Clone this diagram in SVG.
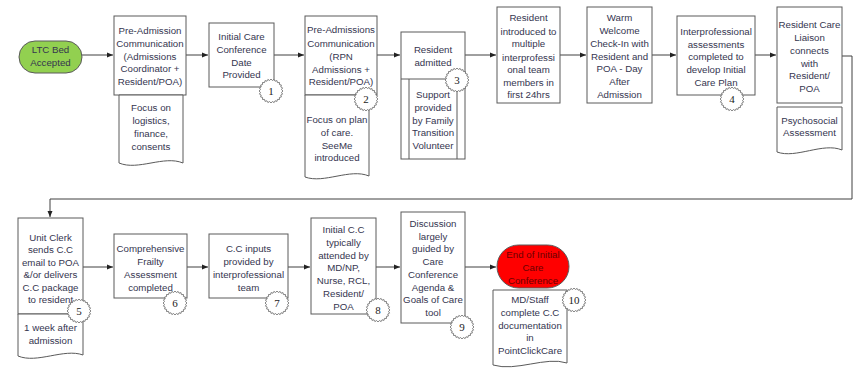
<svg xmlns="http://www.w3.org/2000/svg" width="856" height="368" viewBox="0 0 856 368">
<defs>
<style>
.box{fill:#fff;stroke:#5a5a5a;stroke-width:1}
.doc{fill:#fff;stroke:#5a5a5a;stroke-width:1}
.t{font-family:"Liberation Sans",Arial,sans-serif;font-size:9.7px;fill:#35354f;text-anchor:middle}
.conn{fill:none;stroke:#404040;stroke-width:1}
.badge{fill:#fff;stroke:#666;stroke-width:0.8}
.bt{font-family:"Liberation Serif","Times New Roman",serif;font-size:11px;fill:#222;text-anchor:middle}
</style>
<marker id="ah" viewBox="0 0 6 6" refX="6" refY="3" markerWidth="6" markerHeight="6" markerUnits="userSpaceOnUse" orient="auto">
<path d="M0,0.5 L6,3 L0,5.5 Z" fill="#222"/>
</marker>
<polygon id="gear" class="badge" points="12,0 10.51,1.38 11.59,3.11 9.79,4.06 10.39,6 8.41,6.45 8.49,8.49 6.45,8.41 6,10.39 4.06,9.79 3.11,11.59 1.38,10.51 0,12 -1.38,10.51 -3.11,11.59 -4.06,9.79 -6,10.39 -6.45,8.41 -8.49,8.49 -8.41,6.45 -10.39,6 -9.79,4.06 -11.59,3.11 -10.51,1.38 -12,0 -10.51,-1.38 -11.59,-3.11 -9.79,-4.06 -10.39,-6 -8.41,-6.45 -8.49,-8.49 -6.45,-8.41 -6,-10.39 -4.06,-9.79 -3.11,-11.59 -1.38,-10.51 0,-12 1.38,-10.51 3.11,-11.59 4.06,-9.79 6,-10.39 6.45,-8.41 8.49,-8.49 8.41,-6.45 10.39,-6 9.79,-4.06 11.59,-3.11 10.51,-1.38"/>
</defs>
<rect width="856" height="368" fill="#fff"/>

<g id="connectors">
<path class="conn" marker-end="url(#ah)" d="M82,55 H113"/>
<path class="conn" marker-end="url(#ah)" d="M186,55 H208"/>
<path class="conn" marker-end="url(#ah)" d="M274,55 H304"/>
<path class="conn" marker-end="url(#ah)" d="M377,55 H400"/>
<path class="conn" marker-end="url(#ah)" d="M465,55 H496"/>
<path class="conn" marker-end="url(#ah)" d="M560,55 H586"/>
<path class="conn" marker-end="url(#ah)" d="M652,55 H676"/>
<path class="conn" marker-end="url(#ah)" d="M755,55 H776"/>
<path class="conn" marker-end="url(#ah)" d="M842,56 H852 V199 H50 V217"/>
<path class="conn" marker-end="url(#ah)" d="M83,267 H113"/>
<path class="conn" marker-end="url(#ah)" d="M187,267 H208"/>
<path class="conn" marker-end="url(#ah)" d="M288,267 H310"/>
<path class="conn" marker-end="url(#ah)" d="M376,267 H400"/>
<path class="conn" marker-end="url(#ah)" d="M465,267 H496"/>
</g>

<g id="ltc-bed">
<rect x="19" y="41" width="63" height="32" rx="16" fill="#92d050" stroke="#5a5a5a"/>
<text class="t"><tspan x="50.5" y="53">LTC Bed</tspan><tspan x="50.5" y="66">Accepted</tspan></text>
</g>

<g id="pre-admission">
<rect class="box" x="114" y="16" width="72" height="79"/>
<text class="t"><tspan x="150" y="33.5">Pre-Admission</tspan><tspan x="150" y="46.5">Communication</tspan><tspan x="150" y="59.5">(Admissions</tspan><tspan x="150" y="71.5">Coordinator +</tspan><tspan x="150" y="84.5">Resident/POA)</tspan></text>
</g>
<g id="doc-logistics">
<path class="doc" d="M119,95 H183 V163 C164,155 138,171 119,163 Z"/>
<text class="t"><tspan x="151" y="110.5">Focus on</tspan><tspan x="151" y="123.5">logistics,</tspan><tspan x="151" y="136.5">finance,</tspan><tspan x="151" y="149.5">consents</tspan></text>
</g>

<g id="initial-cc-date">
<rect class="box" x="209" y="23" width="65" height="64"/>
<text class="t"><tspan x="241.5" y="39.5">Initial Care</tspan><tspan x="241.5" y="52.5">Conference</tspan><tspan x="241.5" y="65.5">Date</tspan><tspan x="241.5" y="77.5">Provided</tspan></text>
</g>

<g id="pre-admissions-rpn">
<rect class="box" x="305" y="16" width="72" height="79"/>
<text class="t"><tspan x="341" y="33">Pre-Admissions</tspan><tspan x="341" y="46.5">Communication</tspan><tspan x="341" y="60">(RPN</tspan><tspan x="341" y="72.5">Admissions +</tspan><tspan x="341" y="85">Resident/POA)</tspan></text>
</g>
<g id="doc-plan">
<path class="doc" d="M305,95 H369 V176 C350,168 324,184 305,177 Z"/>
<text class="t"><tspan x="337" y="122.5">Focus on plan</tspan><tspan x="337" y="135.5">of care.</tspan><tspan x="337" y="148.5">SeeMe</tspan><tspan x="337" y="160.5">introduced</tspan></text>
</g>

<g id="resident-admitted">
<rect class="box" x="401" y="32" width="64" height="127"/>
<line class="box" x1="401" y1="79" x2="465" y2="79"/>
<line class="box" x1="409" y1="79" x2="409" y2="159"/>
<line class="box" x1="457" y1="79" x2="457" y2="159"/>
<text class="t"><tspan x="433" y="52.5">Resident</tspan><tspan x="433" y="65.5">admitted</tspan></text>
<text class="t"><tspan x="433" y="97.5">Support</tspan><tspan x="433" y="110.5">provided</tspan><tspan x="433" y="123.5">by Family</tspan><tspan x="433" y="135.5">Transition</tspan><tspan x="433" y="148.5">Volunteer</tspan></text>
</g>

<g id="resident-introduced">
<rect class="box" x="497" y="7" width="63" height="96"/>
<text class="t"><tspan x="528.5" y="20.5">Resident</tspan><tspan x="528.5" y="34.5">introduced to</tspan><tspan x="528.5" y="46.5">multiple</tspan><tspan x="528.5" y="60.5">interprofessi</tspan><tspan x="528.5" y="72.5">onal team</tspan><tspan x="528.5" y="85.5">members in</tspan><tspan x="528.5" y="97.5">first 24hrs</tspan></text>
</g>

<g id="warm-welcome">
<rect class="box" x="587" y="7" width="65" height="96"/>
<text class="t"><tspan x="619.5" y="20.5">Warm</tspan><tspan x="619.5" y="33.5">Welcome</tspan><tspan x="619.5" y="46.5">Check-In with</tspan><tspan x="619.5" y="59.5">Resident and</tspan><tspan x="619.5" y="72">POA - Day</tspan><tspan x="619.5" y="85">After</tspan><tspan x="619.5" y="97.5">Admission</tspan></text>
</g>

<g id="interprofessional-assessments">
<rect class="box" x="677" y="16" width="78" height="79"/>
<text class="t"><tspan x="716" y="34.5">Interprofessional</tspan><tspan x="716" y="47.5">assessments</tspan><tspan x="716" y="59.5">completed to</tspan><tspan x="716" y="72.5">develop Initial</tspan><tspan x="716" y="85.5">Care Plan</tspan></text>
</g>

<g id="resident-care-liaison">
<rect class="box" x="777" y="7" width="65" height="96"/>
<text class="t"><tspan x="809.5" y="27.5">Resident Care</tspan><tspan x="809.5" y="40.5">Liaison</tspan><tspan x="809.5" y="53.5">connects</tspan><tspan x="809.5" y="66.5">with</tspan><tspan x="809.5" y="78.5">Resident/</tspan><tspan x="809.5" y="91.5">POA</tspan></text>
</g>
<g id="doc-psychosocial">
<path class="doc" d="M777,107 H842 V150 C823,142 796,159 777,152 Z"/>
<text class="t"><tspan x="809.5" y="123.5">Psychosocial</tspan><tspan x="809.5" y="135.5">Assessment</tspan></text>
</g>

<g id="unit-clerk">
<rect class="box" x="18" y="218" width="65" height="96"/>
<text class="t"><tspan x="50.5" y="240.5">Unit Clerk</tspan><tspan x="50.5" y="252.5">sends C.C</tspan><tspan x="50.5" y="265.5">email to POA</tspan><tspan x="50.5" y="277.5">&amp;/or delivers</tspan><tspan x="50.5" y="290.5">C.C package</tspan><tspan x="50.5" y="302.5">to resident</tspan></text>
</g>
<g id="doc-one-week">
<path class="doc" d="M18,314 H83 V355 C64,348 37,364 18,356 Z"/>
<text class="t"><tspan x="50.5" y="330.5">1 week after</tspan><tspan x="50.5" y="343.5">admission</tspan></text>
</g>

<g id="frailty-assessment">
<rect class="box" x="114" y="234" width="73" height="64"/>
<text class="t"><tspan x="150.5" y="251.5">Comprehensive</tspan><tspan x="150.5" y="264.5">Frailty</tspan><tspan x="150.5" y="277.5">Assessment</tspan><tspan x="150.5" y="290.5">completed</tspan></text>
</g>

<g id="cc-inputs">
<rect class="box" x="209" y="234" width="79" height="64"/>
<text class="t"><tspan x="248.5" y="251.5">C.C inputs</tspan><tspan x="248.5" y="264.5">provided by</tspan><tspan x="248.5" y="277.5">interprofessional</tspan><tspan x="248.5" y="290.5">team</tspan></text>
</g>

<g id="initial-cc-attended">
<rect class="box" x="311" y="218" width="65" height="96"/>
<text class="t"><tspan x="343.5" y="232.5">Initial C.C</tspan><tspan x="343.5" y="245.5">typically</tspan><tspan x="343.5" y="258.5">attended by</tspan><tspan x="343.5" y="270.5">MD/NP,</tspan><tspan x="343.5" y="283.5">Nurse, RCL,</tspan><tspan x="343.5" y="296.5">Resident/</tspan><tspan x="343.5" y="309.5">POA</tspan></text>
</g>

<g id="discussion">
<rect class="box" x="401" y="212" width="64" height="111"/>
<text class="t"><tspan x="433" y="226.5">Discussion</tspan><tspan x="433" y="239.5">largely</tspan><tspan x="433" y="251.5">guided by</tspan><tspan x="433" y="264.5">Care</tspan><tspan x="433" y="277.5">Conference</tspan><tspan x="433" y="290.5">Agenda &amp;</tspan><tspan x="433" y="302.5">Goals of Care</tspan><tspan x="433" y="315.5">tool</tspan></text>
</g>

<g id="end-initial-cc">
<rect x="497" y="245" width="72" height="43" rx="21.5" fill="#ff0000" stroke="#5a5a5a"/>
<text class="t" style="fill:#6b0000"><tspan x="533" y="257.5">End of Initial</tspan><tspan x="533" y="270.5">Care</tspan><tspan x="533" y="283.5">Conference</tspan></text>
</g>
<g id="doc-documentation">
<path class="doc" d="M493,290 H567 V363 C546,356 516,372 493,365 Z"/>
<text class="t"><tspan x="530" y="302.5">MD/Staff</tspan><tspan x="530" y="315.5">complete C.C</tspan><tspan x="530" y="328.5">documentation</tspan><tspan x="530" y="340.5">in</tspan><tspan x="530" y="353.5">PointClickCare</tspan></text>
</g>

<g id="badge-1"><use href="#gear" x="271" y="91"/><text class="bt" x="271" y="95">1</text></g>
<g id="badge-2"><use href="#gear" x="366" y="99"/><text class="bt" x="366" y="103">2</text></g>
<g id="badge-3"><use href="#gear" x="457" y="80"/><text class="bt" x="457" y="84">3</text></g>
<g id="badge-4"><use href="#gear" x="732" y="99"/><text class="bt" x="732" y="103">4</text></g>
<g id="badge-5"><use href="#gear" x="79" y="311"/><text class="bt" x="79" y="315">5</text></g>
<g id="badge-6"><use href="#gear" x="175" y="303"/><text class="bt" x="175" y="307">6</text></g>
<g id="badge-7"><use href="#gear" x="277" y="303"/><text class="bt" x="277" y="307">7</text></g>
<g id="badge-8"><use href="#gear" x="378" y="310"/><text class="bt" x="378" y="314">8</text></g>
<g id="badge-9"><use href="#gear" x="462" y="327"/><text class="bt" x="462" y="331">9</text></g>
<g id="badge-10"><use href="#gear" x="574" y="300"/><text class="bt" x="574" y="304">10</text></g>
</svg>
